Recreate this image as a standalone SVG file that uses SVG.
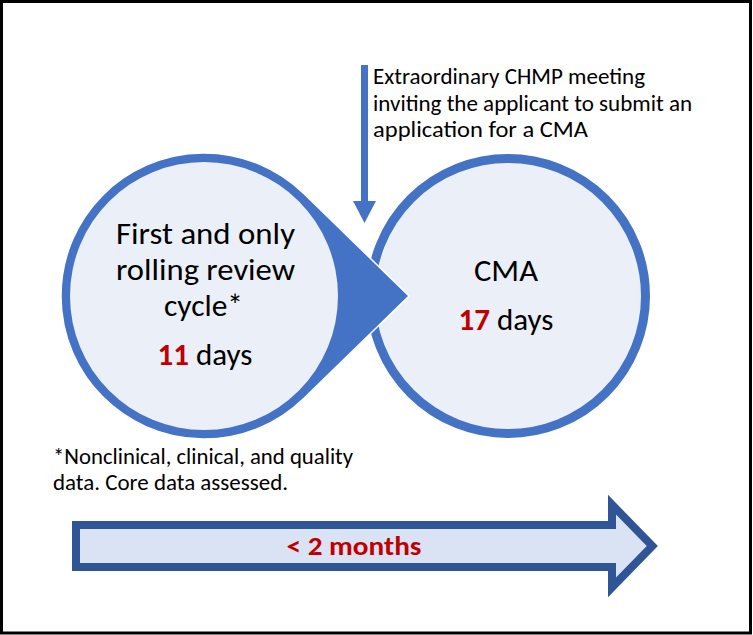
<svg xmlns="http://www.w3.org/2000/svg" width="753" height="635" viewBox="0 0 753 635">
<style>
text{font-family:Carlito,"Liberation Sans",Arial,sans-serif;fill:#000}
.big{font-size:31px}
.small{font-size:22px}
.red{fill:#C00000;font-weight:bold}
.circ{fill:#EAEFF8;stroke:#4472C4;stroke-width:9}
</style>
<rect x="1.5" y="1.5" width="749" height="631.5" fill="#fff" stroke="#000" stroke-width="3"/>
<g id="node-cma">
<circle class="circ" cx="508" cy="296" r="137.5"/>
<text class="big" x="506" y="281" text-anchor="middle" textLength="64" lengthAdjust="spacingAndGlyphs">CMA</text>
<text class="big" x="506" y="330" text-anchor="middle"><tspan class="red">17</tspan> days</text>
</g>
<g id="node-rolling-review">
<path d="M303.7,193.5 A143,143 0 1 0 303.7,398.5 L409,296 Z" fill="#4472C4" stroke="#fff" stroke-width="1.5"/>
<circle cx="204" cy="296" r="134" fill="#EAEFF8"/>
<text class="big" x="205.5" y="244" text-anchor="middle" textLength="179" lengthAdjust="spacingAndGlyphs">First and only</text>
<text class="big" x="205.5" y="280" text-anchor="middle" textLength="179" lengthAdjust="spacingAndGlyphs">rolling review</text>
<text class="big" x="203.5" y="316" text-anchor="middle" textLength="79" lengthAdjust="spacingAndGlyphs">cycle*</text>
<text class="big" x="205" y="365" text-anchor="middle"><tspan class="red">11</tspan> days</text>
</g>
<g id="connectors">
<rect x="361" y="65" width="7" height="137" fill="#4472C4"/>
<polygon points="353,201 376,201 364.5,223" fill="#4472C4"/>
</g>
<g id="label-chmp">
<text class="small" x="373" y="84" textLength="272" lengthAdjust="spacingAndGlyphs">Extraordinary CHMP meeting</text>
<text class="small" x="373" y="110.5" textLength="319" lengthAdjust="spacingAndGlyphs">inviting the applicant to submit an</text>
<text class="small" x="373" y="137" textLength="215" lengthAdjust="spacingAndGlyphs">application for a CMA</text>
</g>
<g id="footnote">
<text class="small" x="53" y="464" textLength="300" lengthAdjust="spacingAndGlyphs">*Nonclinical, clinical, and quality</text>
<text class="small" x="53" y="490" textLength="235" lengthAdjust="spacingAndGlyphs">data. Core data assessed.</text>
</g>
<g id="timeline-arrow">
<polygon points="76,525 612,525 612,504.7 652.3,546 612,587.3 612,567 76,567" fill="#DAE3F3" stroke="#2F5597" stroke-width="8" stroke-linejoin="miter"/>
<text x="354" y="555" text-anchor="middle" class="red" style="font-size:27px" textLength="135" lengthAdjust="spacingAndGlyphs">&lt; 2 months</text>
</g>
</svg>
